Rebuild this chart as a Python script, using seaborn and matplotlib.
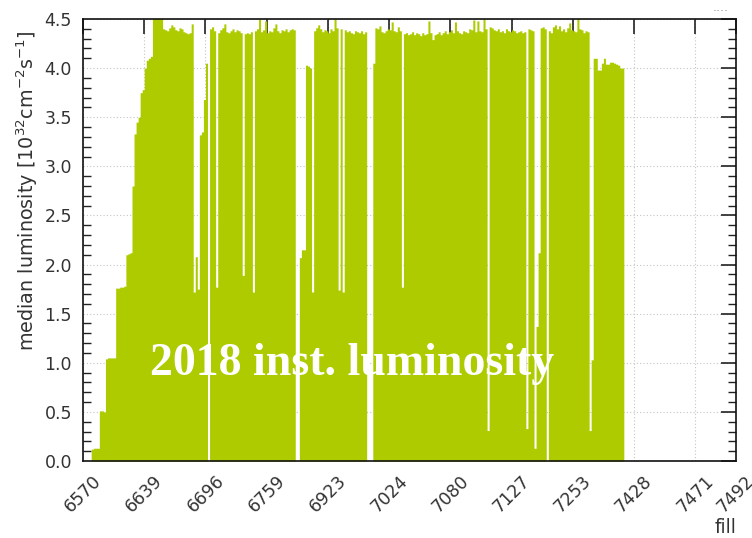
import numpy as np
import pandas as pd
import matplotlib
matplotlib.use("Agg")
import matplotlib.pyplot as plt
import seaborn as sns
from matplotlib.ticker import MultipleLocator, FixedLocator, NullLocator, FormatStrFormatter

# ---- data -------------------------------------------------------------
tick_labels = ["6570", "6639", "6696", "6759", "6923", "7024",
               "7080", "7127", "7253", "7428", "7471", "7492"]
n_bins = 320          # bins on the fill axis
bins_per_tick = 30    # one labelled fill every 30 bins

# median luminosity per fill bin [1e32 cm^-2 s^-1]
median_lumi = [
    0, 0, 0, 0, 0.12, 0.13, 0.13, 0.13, 0.51, 0.51,
    0.50, 1.04, 1.05, 1.05, 1.05, 1.05, 1.76, 1.76, 1.77, 1.77,
    1.78, 2.10, 2.11, 2.12, 2.80, 3.33, 3.45, 3.50, 3.75, 3.78,
    4.00, 4.08, 4.10, 4.12, 4.55, 4.56, 4.55, 4.55, 4.56, 4.40,
    4.39, 4.38, 4.41, 4.44, 4.42, 4.39, 4.38, 4.41, 4.40, 4.37,
    4.36, 4.35, 4.36, 4.45, 1.72, 2.08, 1.75, 3.32, 3.35, 3.68,
    4.05, 0, 4.40, 4.42, 4.38, 1.77, 4.36, 4.39, 4.41, 4.45,
    4.37, 4.36, 4.38, 4.40, 4.37, 4.39, 4.38, 4.36, 1.89, 4.35,
    4.36, 4.35, 4.37, 1.72, 4.38, 4.40, 4.50, 4.37, 4.39, 4.48,
    4.36, 4.38, 4.37, 4.41, 4.45, 4.38, 4.36, 4.39, 4.38, 4.40,
    4.37, 4.39, 4.40, 4.39, 0, 0, 2.07, 2.15, 2.15, 4.03,
    4.02, 4.00, 1.72, 4.38, 4.41, 4.44, 4.40, 4.37, 4.39, 4.38,
    4.36, 4.40, 4.38, 4.50, 4.41, 1.74, 4.40, 1.72, 4.39, 4.37,
    4.38, 4.36, 4.35, 4.38, 4.37, 4.36, 4.38, 4.35, 4.37, 0,
    0, 0, 4.05, 4.41, 4.40, 4.43, 4.37, 4.36, 4.38, 4.40,
    4.39, 4.47, 4.38, 4.37, 4.42, 4.38, 1.77, 4.35, 4.36, 4.34,
    4.35, 4.37, 4.34, 4.36, 4.35, 4.33, 4.36, 4.34, 4.35, 4.48,
    4.36, 4.29, 4.34, 4.35, 4.37, 4.34, 4.36, 4.38, 4.35, 4.37,
    4.39, 4.36, 4.47, 4.38, 4.36, 4.35, 4.38, 4.37, 4.36, 4.40,
    4.39, 4.49, 4.37, 4.48, 4.38, 4.37, 4.52, 4.40, 0.31, 4.42,
    4.41, 4.39, 4.38, 4.40, 4.37, 4.38, 4.36, 4.40, 4.38, 4.37,
    4.39, 4.38, 4.36, 4.37, 4.38, 4.36, 4.37, 0.33, 4.40, 4.39,
    4.38, 0.13, 1.37, 2.12, 4.41, 4.42, 4.40, 0, 4.38, 4.36,
    4.42, 4.44, 4.40, 4.43, 4.38, 4.40, 4.37, 4.41, 4.46, 4.39,
    4.38, 4.37, 4.52, 4.40, 4.39, 4.36, 4.38, 4.37, 0.31, 1.03,
    4.10, 4.10, 3.98, 3.98, 4.05, 4.10, 4.04, 4.04, 4.06, 4.06,
    4.05, 4.04, 4.03, 4.00, 4.00,
]
overlay_text = "2018 inst. luminosity"

# ---- plot -------------------------------------------------------------
sns.set_theme(style="white")
plt.rcParams["font.family"] = ["DejaVu Sans"]

fig = plt.figure(figsize=(7.52, 5.38), dpi=100)
ax = fig.add_axes([0.1104, 0.1431, 0.8684, 0.8216])

df = pd.DataFrame({"bin": np.arange(len(median_lumi)), "lumi": median_lumi})
sns.histplot(data=df, x="bin", weights="lumi", discrete=True, element="step",
             fill=True, color="#aecb00", alpha=1.0, linewidth=0, ax=ax)

ax.set_xlim(-0.5, n_bins - 0.5)
ax.set_ylim(0, 4.5)

xt = [-0.5 + bins_per_tick * i for i in range(len(tick_labels) - 1)] + [n_bins - 0.5]
ax.xaxis.set_major_locator(FixedLocator(xt))
ax.set_xticklabels(tick_labels, rotation=45)
ax.xaxis.set_minor_locator(NullLocator())
ax.yaxis.set_major_locator(MultipleLocator(0.5))
ax.yaxis.set_minor_locator(MultipleLocator(0.1))
ax.yaxis.set_major_formatter(FormatStrFormatter("%.1f"))

ax.grid(True, which="major", linestyle=(0, (1, 2)), color="#c4c4c4", linewidth=0.8)
ax.set_axisbelow(True)

for s in ax.spines.values():
    s.set_color("#111111")
    s.set_linewidth(1.2)

ax.tick_params(which="major", direction="in", length=11, width=1.2,
               top=True, right=True, color="#222222", labelsize=12.5,
               labelcolor="#333333", pad=8)
ax.tick_params(which="minor", direction="in", length=6, width=1.0,
               top=False, right=True, left=True, color="#222222")

ax.set_ylabel(r"median luminosity [10$^{32}$cm$^{-2}$s$^{-1}$]",
              loc="top", fontsize=13.8, color="#333333")
ax.yaxis.set_label_coords(-0.066, 0.975)
ax.set_xlabel("fill", loc="right", fontsize=13.5, color="#333333")
ax.xaxis.set_label_coords(1.0, -0.128)

ax.text(0.412, 0.195, overlay_text, transform=ax.transAxes, ha="center",
        va="baseline", fontsize=33, color="white", family="Liberation Serif",
        weight="bold")

fig.text(0.947, 0.998, "....", color="#9a9a9a", fontsize=9, va="top")

fig.savefig("out.png", dpi=100)
